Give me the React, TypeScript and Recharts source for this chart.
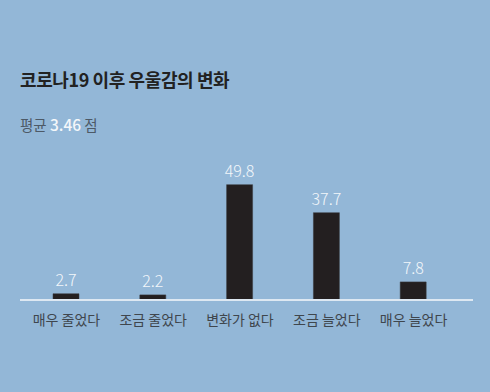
import React from 'react'
import { BarChart, Bar, XAxis, YAxis, LabelList } from 'recharts'

const categories = ['매우 줄었다', '조금 줄었다', '변화가 없다', '조금 늘었다', '매우 늘었다']
const values = [2.7, 2.2, 49.8, 37.7, 7.8]

const title = '코로나19 이후 우울감의 변화'
const avgLabel = '평균'
const avgValue = '3.46'
const avgUnit = '점'

const data = categories.map((c, i) => ({ name: c, value: values[i] }))

const FONT = '"Noto Sans CJK KR", "Noto Sans", sans-serif'

export default function App() {
    return (
        <div
            style={{
                position: 'absolute',
                left: 0,
                top: 0,
                width: 490,
                height: 392,
                background: '#93b7d7',
                fontFamily: FONT,
                overflow: 'hidden',
            }}
        >
            <div
                style={{
                    position: 'absolute',
                    left: 20,
                    top: 66,
                    fontSize: 18,
                    fontWeight: 700,
                    color: '#222',
                    letterSpacing: -0.4,
                }}
            >
                {title}
            </div>
            <div
                style={{
                    position: 'absolute',
                    left: 20,
                    top: 113,
                    fontSize: 14.5,
                    color: '#4d5966',
                }}
            >
                {avgLabel} <span style={{ color: '#f4f7fa', fontWeight: 500, fontSize: 15.5 }}>{avgValue}</span> {avgUnit}
            </div>
            <div style={{ position: 'absolute', left: 0, top: 0 }}>
                <BarChart
                    width={490}
                    height={392}
                    data={data}
                    margin={{ top: 161, right: 17, bottom: 62, left: 20 }}
                >
                    <YAxis hide domain={[0, 60]} />
                    <XAxis
                        dataKey="name"
                        height={30}
                        tickLine={false}
                        padding={{ left: 3, right: 16 }}
                        axisLine={{ stroke: '#dde8f2', strokeWidth: 2 }}
                        tickMargin={9}
                        tick={{ fill: '#3f464d', fontSize: 14, fontFamily: FONT }}
                        interval={0}
                    />
                    <Bar dataKey="value" fill="#231f20" stroke="#3a3a3c" strokeWidth={0.5} barSize={26} isAnimationActive={false}>
                        <LabelList
                            dataKey="value"
                            position="top"
                            offset={8}
                            fill="#f2f6fa"
                            fontSize={16}
                            fontFamily={FONT}
                            fontWeight={300}
                        />
                    </Bar>
                </BarChart>
            </div>
        </div>
    )
}
